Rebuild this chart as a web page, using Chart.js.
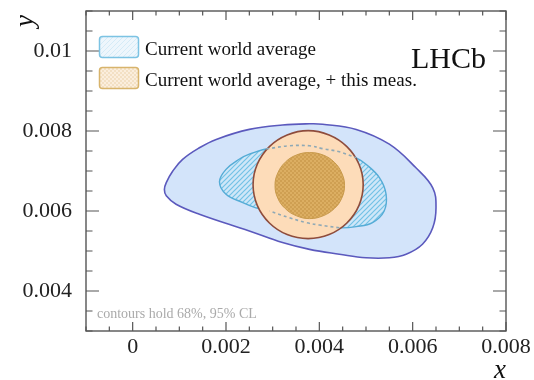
<!DOCTYPE html>
<html>
<head>
<meta charset="utf-8">
<script src="https://cdn.jsdelivr.net/npm/chart.js@4.4.1/dist/chart.umd.min.js"></script>
<style>
  html, body { margin: 0; padding: 0; background: #fff; }
  #wrap { width: 534px; height: 380px; }
</style>
</head>
<body>
<div id="wrap"><canvas id="contourChart" width="534" height="380"></canvas></div>
<script>
// axis ranges and tick labels
const xRange = [-0.001, 0.008];
const yRange = [0.003, 0.011];
const xTicks = [0, 0.002, 0.004, 0.006, 0.008];
const yTicks = [0.004, 0.006, 0.008, 0.01];
const minorStep = 0.0005;

const legendLabels = ['Current world average', 'Current world average, + this meas.'];

// current world average, 95% CL contour (clockwise from the left tip)
const wa95X = [0.00068, 0.00072, 0.00086, 0.00107, 0.00143, 0.00179, 0.00250, 0.00321, 0.00379, 0.00407,
  0.00479, 0.00550, 0.00607, 0.00643, 0.00650, 0.00643, 0.00621, 0.00586, 0.00550, 0.00500,
  0.00443, 0.00379, 0.00321, 0.00250, 0.00143, 0.00093, 0.00072];
const wa95Y = [0.00654, 0.00671, 0.00700, 0.00729, 0.00758, 0.00779, 0.00804, 0.00815, 0.00818, 0.00817,
  0.00804, 0.00767, 0.00708, 0.00658, 0.00608, 0.00558, 0.00517, 0.00492, 0.00483, 0.00483,
  0.00492, 0.00504, 0.00521, 0.00550, 0.00592, 0.00617, 0.00638];

// current world average, 68% CL contour
const wa68X = [0.00186, 0.00200, 0.00229, 0.00250, 0.00286, 0.00336, 0.00379, 0.00407, 0.00443, 0.00479,
  0.00500, 0.00529, 0.00543, 0.00539, 0.00514, 0.00479, 0.00443, 0.00400, 0.00372, 0.00336,
  0.00293, 0.00264, 0.00236, 0.00200];
const wa68Y = [0.00673, 0.00704, 0.00730, 0.00742, 0.00755, 0.00763, 0.00763, 0.00756, 0.00748, 0.00733,
  0.00717, 0.00683, 0.00642, 0.00600, 0.00571, 0.00561, 0.00558, 0.00565, 0.00571, 0.00583,
  0.00600, 0.00608, 0.00621, 0.00642];

// world average + this measurement, 95% CL
const comb95X = [0.00258, 0.00267, 0.00293, 0.00331, 0.00376, 0.00421, 0.00459, 0.00485,
  0.00494, 0.00485, 0.00459, 0.00421, 0.00376, 0.00331, 0.00293, 0.00267];
const comb95Y = [0.00666, 0.00717, 0.00761, 0.00790, 0.00801, 0.00790, 0.00761, 0.00717,
  0.00666, 0.00614, 0.00570, 0.00541, 0.00531, 0.00541, 0.00570, 0.00614];

// world average + this measurement, 68% CL
const comb68X = [0.00305, 0.00311, 0.00327, 0.00351, 0.00379, 0.00408, 0.00432, 0.00448,
  0.00454, 0.00448, 0.00432, 0.00408, 0.00379, 0.00351, 0.00327, 0.00311];
const comb68Y = [0.00664, 0.00695, 0.00722, 0.00740, 0.00746, 0.00740, 0.00722, 0.00695,
  0.00664, 0.00632, 0.00606, 0.00588, 0.00581, 0.00588, 0.00606, 0.00632];

function toPoints(xs, ys) {
  return xs.map((x, i) => ({ x: x, y: ys[i] }));
}

// small repeating tiles for the hatched / dotted fills
function hatchPattern(bg, fg, size, width) {
  const c = document.createElement('canvas');
  c.width = size; c.height = size;
  const g = c.getContext('2d');
  g.fillStyle = bg; g.fillRect(0, 0, size, size);
  g.strokeStyle = fg; g.lineWidth = width;
  g.beginPath();
  g.moveTo(-1, size + 1); g.lineTo(size + 1, -1);
  g.moveTo(-1, 1); g.lineTo(1, -1);
  g.moveTo(size - 1, size + 1); g.lineTo(size + 1, size - 1);
  g.stroke();
  return g.createPattern(c, 'repeat');
}

function checkerPattern(a, b, cell) {
  const c = document.createElement('canvas');
  c.width = cell * 2; c.height = cell * 2;
  const g = c.getContext('2d');
  g.fillStyle = a; g.fillRect(0, 0, cell * 2, cell * 2);
  g.fillStyle = b;
  g.fillRect(0, 0, cell, cell);
  g.fillRect(cell, cell, cell, cell);
  return g.createPattern(c, 'repeat');
}

const hatchBlue = hatchPattern('#cfe7f8', '#72c1e6', 5, 1.2);
const checkGold = checkerPattern('#dcae62', '#cf9f52', 2);
const hatchLegend = hatchPattern('#eef6fc', '#d5ebf7', 5, 1);
const checkLegend = checkerPattern('#fbeedd', '#f3e0c4', 2);

const base = { showLine: true, pointRadius: 0, tension: 0.4 };

// line charts only close their path for radar, so flag the contour datasets as loops
const framePlugin = {
  id: 'frame',
  afterDatasetUpdate(chart, args) {
    const ds = chart.data.datasets[args.index];
    if (ds.closed && args.meta.dataset) {
      args.meta.dataset._loop = true;
      args.meta.dataset._fullLoop = true;
    }
  },
  afterDraw(chart) {
    const { ctx, chartArea: a, scales: { x, y } } = chart;
    ctx.save();

    // frame with inward ticks on all four sides
    ctx.strokeStyle = '#555';
    ctx.lineWidth = 1.4;
    ctx.strokeRect(a.left, a.top, a.right - a.left, a.bottom - a.top);
    ctx.lineWidth = 1.2;
    ctx.beginPath();
    const nx = Math.round((xRange[1] - xRange[0]) / minorStep);
    for (let i = 0; i <= nx; i++) {
      const v = xRange[0] + i * minorStep;
      const len = xTicks.some(t => Math.abs(t - v) < 1e-9) ? 9 : 4.5;
      const px = x.getPixelForValue(v);
      ctx.moveTo(px, a.bottom); ctx.lineTo(px, a.bottom - len);
      ctx.moveTo(px, a.top); ctx.lineTo(px, a.top + len);
    }
    const ny = Math.round((yRange[1] - yRange[0]) / minorStep);
    for (let i = 0; i <= ny; i++) {
      const v = yRange[0] + i * minorStep;
      const len = yTicks.some(t => Math.abs(t - v) < 1e-9) ? 13 : 6.5;
      const py = y.getPixelForValue(v);
      ctx.moveTo(a.left, py); ctx.lineTo(a.left + len, py);
      ctx.moveTo(a.right, py); ctx.lineTo(a.right - len, py);
    }
    ctx.stroke();

    // axis titles
    ctx.fillStyle = '#111';
    ctx.font = 'italic 27px "Liberation Serif"';
    ctx.textAlign = 'right';
    ctx.textBaseline = 'alphabetic';
    ctx.fillText('x', a.right, 378);
    ctx.save();
    ctx.translate(33, 21);
    ctx.rotate(-Math.PI / 2);
    ctx.textAlign = 'center';
    ctx.fillText('y', 0, 0);
    ctx.restore();

    // experiment label
    ctx.textAlign = 'left';
    ctx.font = '30px "Liberation Serif"';
    ctx.fillText('LHCb', 411, 68);

    // legend
    const boxes = [
      { fill: hatchLegend, stroke: '#7cc3e3', top: 36 },
      { fill: checkLegend, stroke: '#d8b46c', top: 67 }
    ];
    boxes.forEach((b, i) => {
      ctx.beginPath();
      ctx.roundRect(99.5, b.top + 0.5, 39, 21, 3);
      ctx.fillStyle = b.fill;
      ctx.fill();
      ctx.lineWidth = 1.5;
      ctx.strokeStyle = b.stroke;
      ctx.stroke();
      ctx.fillStyle = '#111';
      ctx.font = '19px "Liberation Serif"';
      ctx.fillText(legendLabels[i], 145, b.top + 19);
    });

    // footnote
    ctx.fillStyle = '#aaa';
    ctx.font = '14px "Liberation Serif"';
    ctx.fillText('contours hold 68%, 95% CL', 97, 318);
    ctx.restore();
  }
};

const tickFont = { family: 'Liberation Serif', size: 22 };

new Chart(document.getElementById('contourChart'), {
  type: 'scatter',
  data: {
    datasets: [
      Object.assign({}, base, {
        label: 'world average 95%', data: toPoints(wa95X, wa95Y), closed: true, fill: 'shape',
        backgroundColor: '#d3e4fa', borderColor: '#5b59bd', borderWidth: 1.6, order: 4
      }),
      Object.assign({}, base, {
        label: 'world average 68%', data: toPoints(wa68X, wa68Y), closed: true, fill: 'shape',
        backgroundColor: hatchBlue, borderColor: '#55acd6', borderWidth: 1.4, order: 3
      }),
      Object.assign({}, base, {
        label: 'with this meas. 95%', data: toPoints(comb95X, comb95Y), closed: true, fill: 'shape',
        backgroundColor: '#fddcb9', borderColor: '#8e4c3c', borderWidth: 1.6, order: 2
      }),
      // the 68% world-average outline where it runs under the combined region
      Object.assign({}, base, {
        label: 'world average 68% (upper)', data: toPoints(wa68X.slice(4, 10), wa68Y.slice(4, 10)), fill: false,
        borderColor: '#8fa9b6', borderWidth: 1.6, borderDash: [3, 3], order: 1
      }),
      Object.assign({}, base, {
        label: 'world average 68% (lower)', data: toPoints(wa68X.slice(16, 21), wa68Y.slice(16, 21)), fill: false,
        borderColor: '#8fa9b6', borderWidth: 1.6, borderDash: [3, 3], order: 1
      }),
      Object.assign({}, base, {
        label: 'with this meas. 68%', data: toPoints(comb68X, comb68Y), closed: true, fill: 'shape',
        backgroundColor: checkGold, borderColor: '#c89a4c', borderWidth: 1, order: 0
      })
    ]
  },
  options: {
    responsive: false,
    animation: false,
    events: [],
    layout: { padding: { left: 0, top: 11, right: 28, bottom: 0 } },
    plugins: {
      legend: { display: false },
      tooltip: { enabled: false }
    },
    scales: {
      x: {
        type: 'linear',
        min: xRange[0],
        max: xRange[1],
        grid: { display: false },
        border: { display: false },
        afterBuildTicks: s => { s.ticks = xTicks.map(v => ({ value: v })); },
        afterFit: s => { s.height = 49; s.paddingLeft = 0; s.paddingRight = 0; },
        ticks: {
          padding: -5, color: '#222', font: tickFont, autoSkip: false, maxRotation: 0,
          callback: v => String(v)
        }
      },
      y: {
        type: 'linear',
        min: yRange[0],
        max: yRange[1],
        grid: { display: false },
        border: { display: false },
        afterBuildTicks: s => { s.ticks = yTicks.map(v => ({ value: v })); },
        afterFit: s => { s.width = 86; s.paddingTop = 0; s.paddingBottom = 0; },
        ticks: {
          padding: 6, color: '#222', font: tickFont, autoSkip: false,
          callback: v => String(v)
        }
      }
    }
  },
  plugins: [framePlugin]
});
</script>
</body>
</html>
